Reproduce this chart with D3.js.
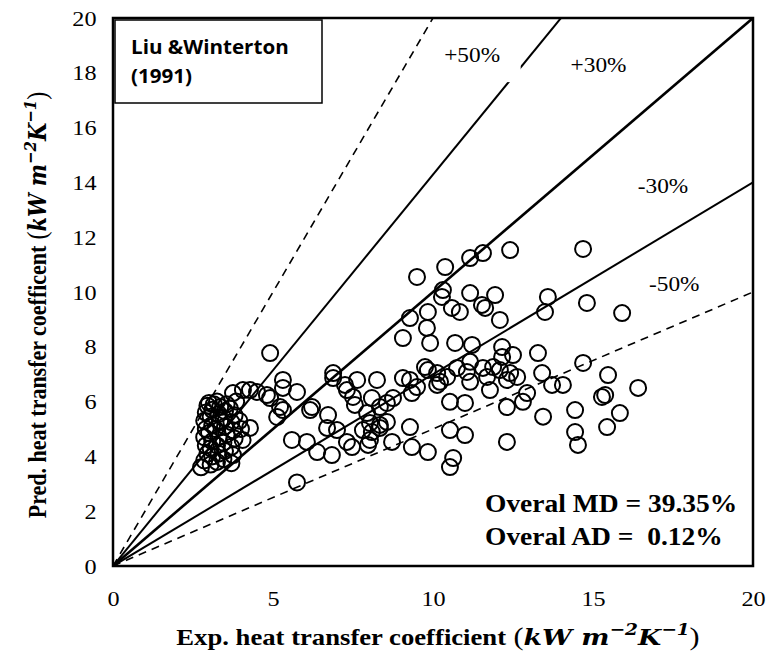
<!DOCTYPE html>
<html>
<head>
<meta charset="utf-8">
<script src="https://cdn.jsdelivr.net/npm/d3@7"></script>
<style>
  html, body { margin: 0; padding: 0; background: #fff; }
  svg { display: block; }
</style>
</head>
<body>
<svg id="chart" width="769" height="653"></svg>
<script>
// Experimental vs predicted heat transfer coefficient (kW m^-2 K^-1)
const clusterPoints = [
  [2.75,3.6],[2.85,3.85],[2.95,4.1],[2.9,4.4],[2.85,4.7],[2.9,5.0],[2.85,5.3],[2.9,5.6],[2.95,5.85],[3.0,5.95],
  [3.05,3.7],[3.1,4.0],[3.05,4.3],[3.1,4.55],[3.0,4.85],[3.1,5.15],[3.05,5.45],[3.1,5.7],[3.15,5.9],
  [3.25,3.8],[3.3,4.1],[3.25,4.4],[3.3,4.7],[3.2,5.0],[3.35,5.3],[3.3,5.55],[3.35,5.8],[3.25,6.0],
  [3.45,3.9],[3.5,4.2],[3.45,4.5],[3.55,4.8],[3.5,5.1],[3.45,5.4],[3.5,5.65],[3.55,5.9],
  [3.7,3.75],[3.75,4.05],[3.7,4.35],[3.8,4.65],[3.75,4.95],[3.7,5.25],[3.8,5.5],[3.65,5.75],[3.85,6.0],
  [4.0,5.0],[4.05,4.6],[3.95,5.3]
];
const midPoints = [
  [4.91,7.77],[4.06,6.42],[4.28,6.42],[4.50,6.35],[3.75,6.31],[4.81,6.24],[4.91,6.13],[5.31,6.79],[5.31,6.50],
  [5.75,6.35],[5.22,5.80],[5.31,5.69],[5.13,5.44],[6.22,5.80],[6.16,5.69],[6.88,7.04],[6.88,6.86],[7.25,6.61],
  [7.31,6.42],[7.63,6.79],[7.50,6.17],[8.09,6.13],[8.25,6.79],[7.94,5.58],[6.72,5.51],[7.00,4.96],[6.69,5.04],
  [7.81,4.96],[8.09,4.89],[8.03,4.60],[7.31,4.53],[7.47,4.34],[5.59,4.60],[6.06,4.53],[6.38,4.16],[6.84,4.05],
  [5.75,3.05],[4.28,5.04],[7.56,5.88],[8.56,5.95],[8.75,6.13],[9.34,6.31],[8.03,5.22],[8.34,5.15],[8.56,5.26],
  [8.34,5.04],[9.28,5.07],[10.53,5.99],[11.0,5.95],[7.97,4.42],[8.72,4.53],[9.34,4.34],[9.84,4.16],[10.53,4.96],
  [11.0,4.78],[10.63,3.94],[10.53,3.61],[8.34,5.80]
];
const highPoints = [
  [12.41,11.53],[11.56,11.42],[11.16,11.24],[10.38,10.91],[9.50,10.55],[10.31,10.07],[10.28,9.82],[11.16,9.96],
  [11.94,9.89],[11.53,9.53],[11.63,9.42],[10.59,9.42],[10.84,9.27],[12.09,8.98],[13.59,9.82],[13.50,9.27],
  [9.28,9.05],[9.84,9.27],[9.81,8.69],[9.06,8.32],[9.91,8.14],[10.69,8.14],[11.22,8.07],[12.16,7.99],[12.5,7.70],
  [13.28,7.77],[12.16,7.63],[11.16,7.45],[9.75,7.26],[9.84,7.15],[10.75,7.23],[11.06,7.08],[11.56,7.23],[11.88,7.26],
  [12.09,7.15],[12.41,7.04],[13.41,7.04],[10.44,6.90],[11.69,6.90],[10.22,6.72],[11.16,6.72],[12.31,6.79],[12.63,6.90],
  [13.72,6.61],[14.06,6.61],[9.06,6.86],[9.28,6.79],[9.50,6.53],[10.13,6.61],[11.78,6.42],[12.94,6.31],[12.31,5.80],
  [12.81,5.99],[13.44,5.45],[10.13,7.04]
];
const rightPoints = [
  [14.69,11.57],[14.81,9.6],[15.91,9.23],[14.69,7.41],[15.47,6.97],[16.41,6.50],[15.28,6.17],[15.38,6.24],
  [14.44,5.69],[15.84,5.58],[15.44,5.07],[14.44,4.89],[14.53,4.42],[12.31,4.53]
];

// Deviation bands: predicted = ratio * experimental
const bandRatios = [2, 1 / 0.7, 1, 0.7, 0.5];
const bandStyles = ["dashed", "solid", "thick", "solid", "dashed"];
const bandLabels = ["+50%", "+30%", "-30%", "-50%"];
const xTicks = [0, 5, 10, 15, 20];
const yTicks = [0, 2, 4, 6, 8, 10, 12, 14, 16, 18, 20];
const statLines = ["Overal MD = 39.35%", "Overal AD =  0.12%"];
const modelName = ["Liu &Winterton", "(1991)"];

const SERIF = "'Liberation Serif', 'Times New Roman', serif";
const SANS = "'Open Sans', Lato, sans-serif";
const MATH = "'DejaVu Serif', serif";
const WIDE = 1.1; // glyphs are set slightly wider than tall

const svg = d3.select("#chart");
const plotL = 113, plotR = 753, plotT = 18, plotB = 566;
const x = d3.scaleLinear().domain([0, 20]).range([plotL, plotR]);
const y = d3.scaleLinear().domain([0, 20]).range([plotB, plotT]);

svg.append("defs").append("clipPath").attr("id", "plotClip")
  .append("rect").attr("x", plotL).attr("y", plotT)
  .attr("width", plotR - plotL).attr("height", plotB - plotT);

// Deviation lines
const lineGen = d3.line().x(d => x(d[0])).y(d => y(d[1]));
const gLines = svg.append("g").attr("clip-path", "url(#plotClip)");
bandRatios.forEach((r, i) => {
  const st = bandStyles[i];
  gLines.append("path")
    .attr("d", lineGen([[0, 0], [20, 20 * r]]))
    .attr("fill", "none")
    .attr("stroke", "#000")
    .attr("stroke-width", st === "thick" ? 2.6 : (st === "solid" ? 2 : 1.6))
    .attr("stroke-dasharray", st === "dashed" ? "8,6" : null);
});

// Band labels (white box behind the +50% text)
const labelPos = [
  {v: bandLabels[0], lx: 10.35, ly: 18.4, box: [10.0, 17.66, 12.74, 19.6]},
  {v: bandLabels[1], lx: 14.3, ly: 18.03, box: null},
  {v: bandLabels[2], lx: 16.4, ly: 13.62, box: null},
  {v: bandLabels[3], lx: 16.75, ly: 10.02, box: null}
];
labelPos.forEach(p => {
  if (p.box) {
    svg.append("rect")
      .attr("x", x(p.box[0])).attr("y", y(p.box[3]))
      .attr("width", x(p.box[2]) - x(p.box[0]))
      .attr("height", y(p.box[1]) - y(p.box[3]))
      .attr("fill", "#fff");
  }
  svg.append("text")
    .attr("transform", `translate(${x(p.lx)},${y(p.ly)}) scale(1.06,1)`)
    .style("font-family", SERIF).style("font-size", "22px")
    .text(p.v);
});

// Scatter points
const allPoints = clusterPoints.concat(midPoints, highPoints, rightPoints);
svg.append("g").selectAll("circle").data(allPoints).join("circle")
  .attr("cx", d => x(d[0])).attr("cy", d => y(d[1]))
  .attr("r", 8)
  .attr("fill", "none")
  .attr("stroke", "#000")
  .attr("stroke-width", 2);

// Axes
const xAxis = svg.append("g").attr("transform", `translate(0,${plotB})`)
  .call(d3.axisBottom(x).tickValues(xTicks).tickSize(0).tickPadding(24));
const yAxis = svg.append("g").attr("transform", `translate(${plotL},0)`)
  .call(d3.axisLeft(y).tickValues(yTicks).tickSize(0).tickPadding(15));
[xAxis, yAxis].forEach(a => {
  a.select(".domain").remove();
  a.selectAll("text").style("font-family", SERIF)
    .style("font-size", "22px").attr("fill", "#000")
    .attr("transform", `scale(${WIDE},1)`);
});

// Plot frame
svg.append("rect")
  .attr("x", plotL).attr("y", plotT)
  .attr("width", plotR - plotL).attr("height", plotB - plotT)
  .attr("fill", "none").attr("stroke", "#000").attr("stroke-width", 2.5);

// Model name box
svg.append("rect")
  .attr("x", 115).attr("y", 20).attr("width", 207).attr("height", 83)
  .attr("fill", "#fff").attr("stroke", "#000").attr("stroke-width", 1.5);
modelName.forEach((s, i) => {
  svg.append("text")
    .attr("transform", `translate(131,${54 + i * 29}) scale(1.03,1)`)
    .style("font-family", SANS).style("font-weight", "bold")
    .style("font-size", "20px").text(s);
});

// Deviation statistics
statLines.forEach((s, i) => {
  svg.append("text")
    .attr("transform", `translate(485,${512 + i * 33}) scale(${WIDE},1)`)
    .style("font-family", SERIF).style("font-weight", "bold").style("font-size", "25px")
    .style("white-space", "pre")
    .text(s);
});

// Axis titles: bold text followed by the unit in bold italic math style
function unitTspans(t, big, small) {
  const shift = Math.round(big * 0.42);
  const math = (sel, size) => sel.style("font-family", MATH).style("font-style", "italic")
    .style("font-weight", "bold").style("font-size", size + "px");
  t.append("tspan").style("font-family", SERIF).style("font-weight", "normal").style("font-size", (big + 3) + "px").text(" (");
  math(t.append("tspan"), big).text("kW m");
  math(t.append("tspan"), small).attr("dy", -shift).text("\u22122");
  math(t.append("tspan"), big).attr("dy", shift).text("K");
  math(t.append("tspan"), small).attr("dy", -shift).text("\u22121");
  t.append("tspan").style("font-family", SERIF).style("font-weight", "normal").style("font-size", (big + 3) + "px")
    .attr("dy", shift).text(")");
}
const xt = svg.append("text")
  .attr("transform", `translate(438,645) scale(${WIDE + 0.06},1)`)
  .attr("text-anchor", "middle")
  .style("font-family", SERIF).style("font-weight", "bold").style("font-size", "23px");
xt.append("tspan").text("Exp. heat transfer coefficient");
unitTspans(xt, 23, 16);

const yt = svg.append("text")
  .attr("transform", `translate(46,305) scale(${WIDE + 0.05},1) rotate(-90)`)
  .attr("text-anchor", "middle")
  .style("font-family", SERIF).style("font-weight", "bold").style("font-size", "22px");
yt.append("tspan").text("Pred. heat transfer coefficent");
unitTspans(yt, 21, 15);
</script>
</body>
</html>
